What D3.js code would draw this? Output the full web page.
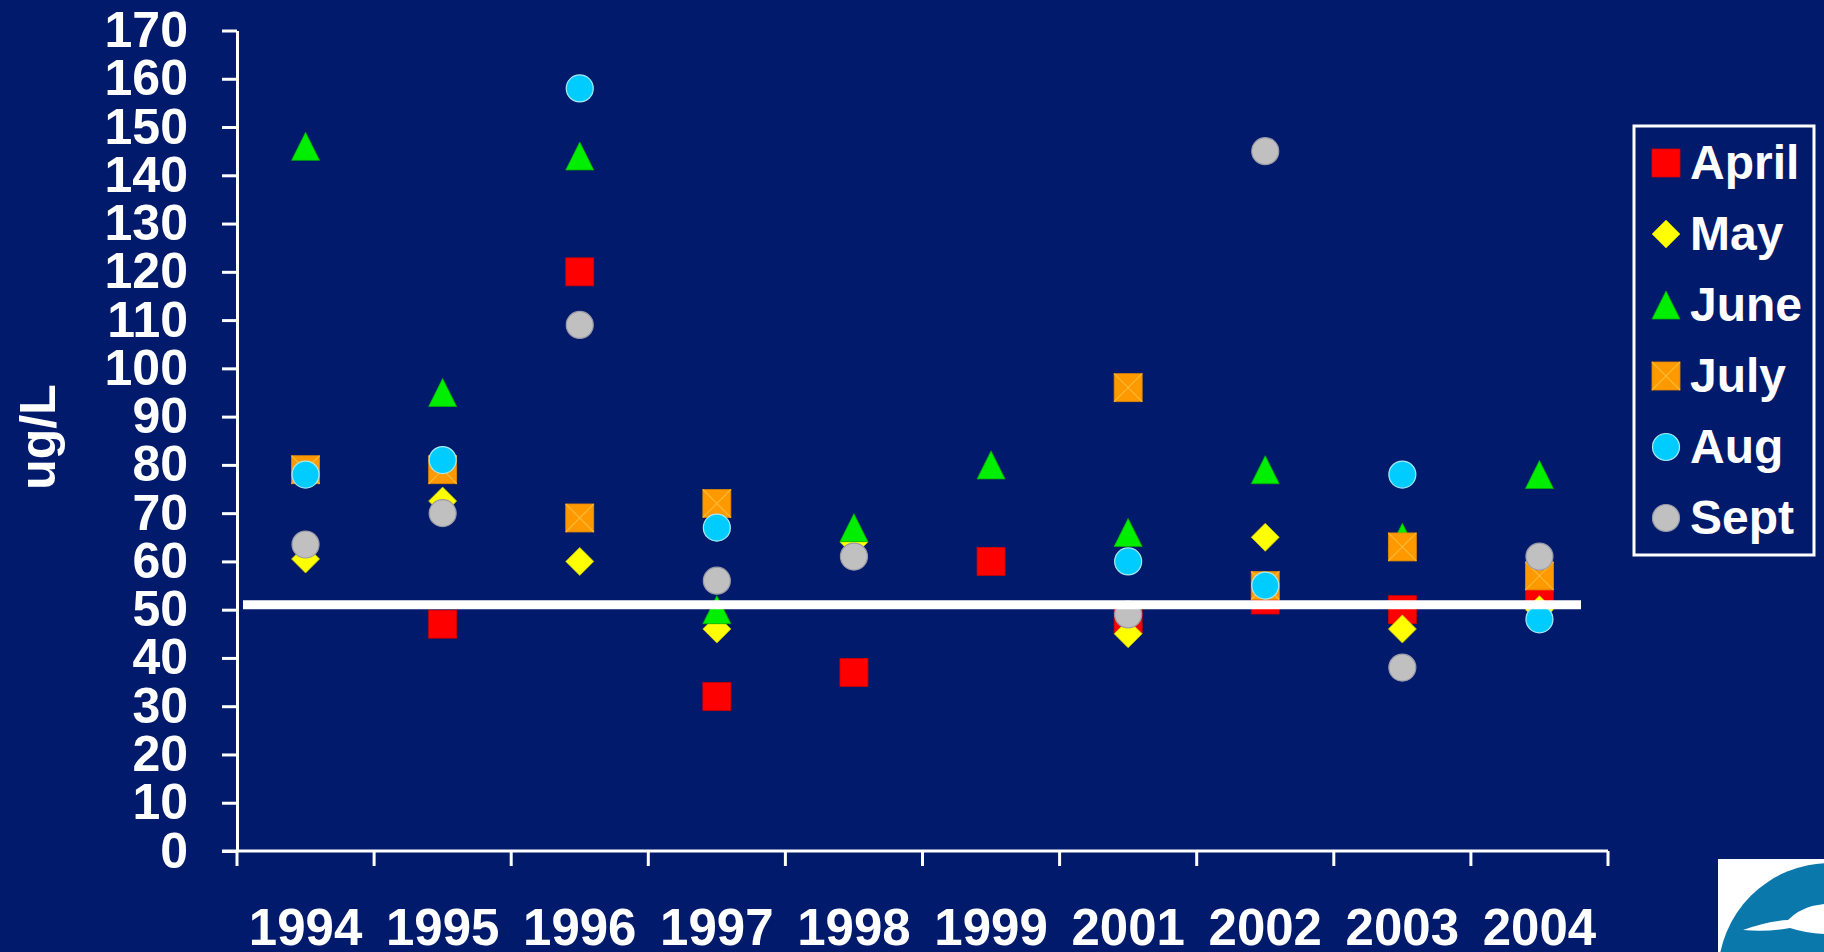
<!DOCTYPE html>
<html>
<head>
<meta charset="utf-8">
<script src="https://cdn.jsdelivr.net/npm/d3@7"></script>
<style>
	body { margin: 0; background: #021a6b; }
	text { font-family: "Liberation Sans", Arial, sans-serif; font-weight: bold; fill: #fff; }
</style>
</head>
<body>
<div id="chart"></div>
<script>
// data (ug/L), null = no sample
var years = ["1994", "1995", "1996", "1997", "1998", "1999", "2001", "2002", "2003", "2004"];
var april = [null, 47, 120, 32, 37, 60, 48, 52, 50, 53];
var may   = [60.5, 72.5, 60, 46, 64, null, 45, 65, 46, 50];
var june  = [146, 95, 144, 50, 67, 80, 66, 79, 65, 78];
var july  = [79, 79, 69, 72, null, null, 96, 55, 63, 57];
var aug   = [78, 81, 158, 67, null, null, 60, 55, 78, 48];
var sept  = [63.5, 70, 109, 56, 61, null, 49, 145, 38, 61];
var limit = 51;
var yTicks = d3.range(0, 171, 10);

var months = [
	{ name: "April", values: april, shape: "square",   color: "#ff0000" },
	{ name: "May",   values: may,   shape: "diamond",  color: "#ffff00" },
	{ name: "June",  values: june,  shape: "triangle", color: "#00ee00" },
	{ name: "July",  values: july,  shape: "xsquare",  color: "#ff9900" },
	{ name: "Aug",   values: aug,   shape: "circle",   color: "#00ccff" },
	{ name: "Sept",  values: sept,  shape: "circle",   color: "#c0c0c0" }
];

var width = 1824;
var height = 952;
// plot edges (window.top is read-only, so no "top" name here)
var plotLeft = 237, plotRight = 1608, plotTop = 30.5, plotBottom = 851;

var svg = d3.select("#chart").append("svg").attr("width", width).attr("height", height);
svg.append("rect").attr("width", width).attr("height", height).attr("fill", "#021a6b");

var x = d3.scaleBand().domain(years).range([plotLeft, plotRight]).padding(0);
var y = d3.scaleLinear().domain([0, 170]).range([plotBottom, plotTop]);

// y axis
var yAxis = svg.append("g").attr("transform", "translate(" + plotLeft + ",0)")
	.call(d3.axisLeft(y).tickValues(yTicks).tickSize(15).tickPadding(34).tickSizeOuter(0));
yAxis.selectAll("path, line").attr("stroke", "#fff").attr("stroke-width", 3);
yAxis.selectAll("text").attr("fill", "#fff").style("font-size", "50px")
	.style("font-family", "'Liberation Sans', Arial, sans-serif").style("font-weight", "bold");

// x axis: ticks between categories
svg.append("line").attr("x1", plotLeft - 15).attr("x2", plotRight).attr("y1", plotBottom).attr("y2", plotBottom)
	.attr("stroke", "#fff").attr("stroke-width", 3);
var edges = years.map(function(d) { return x(d); }).concat([plotRight]);
svg.selectAll(".xtick").data(edges).enter().append("line")
	.attr("class", "xtick")
	.attr("x1", function(d) { return d; }).attr("x2", function(d) { return d; })
	.attr("y1", plotBottom).attr("y2", plotBottom + 15)
	.attr("stroke", "#fff").attr("stroke-width", 3);
svg.selectAll(".xlab").data(years).enter().append("text")
	.attr("class", "xlab")
	.attr("x", function(d) { return x(d) + x.bandwidth() / 2; })
	.attr("y", 945)
	.attr("text-anchor", "middle")
	.style("font-size", "51px")
	.text(function(d) { return d; });

// axis title
svg.append("text")
	.attr("transform", "translate(55,437) rotate(-90)")
	.attr("text-anchor", "middle")
	.style("font-size", "50px")
	.text("ug/L");

// marker drawing
function drawMarker(g, shape, color, cx, cy) {
	var s = 14;
	if (shape == "square") {
		g.append("rect").attr("x", cx - s).attr("y", cy - s).attr("width", 2 * s).attr("height", 2 * s)
			.attr("fill", color).attr("stroke", "#d00000").attr("stroke-width", 0.8);
	} else if (shape == "xsquare") {
		g.append("rect").attr("x", cx - s).attr("y", cy - s).attr("width", 2 * s).attr("height", 2 * s)
			.attr("fill", color).attr("stroke", "#e08800").attr("stroke-width", 0.8);
		g.append("path").attr("d", "M" + (cx - s) + "," + (cy - s) + "L" + (cx + s) + "," + (cy + s) +
			"M" + (cx + s) + "," + (cy - s) + "L" + (cx - s) + "," + (cy + s))
			.attr("stroke", "#ffb833").attr("stroke-width", 1.2);
	} else if (shape == "diamond") {
		g.append("path").attr("d", "M" + cx + "," + (cy - s) + "L" + (cx + s) + "," + cy +
			"L" + cx + "," + (cy + s) + "L" + (cx - s) + "," + cy + "Z")
			.attr("fill", color).attr("stroke", "#c8c800").attr("stroke-width", 0.8);
	} else if (shape == "triangle") {
		g.append("path").attr("d", "M" + cx + "," + (cy - s) + "L" + (cx + s) + "," + (cy + s) +
			"L" + (cx - s) + "," + (cy + s) + "Z")
			.attr("fill", color).attr("stroke", "#00b000").attr("stroke-width", 0.8);
	} else {
		g.append("circle").attr("cx", cx).attr("cy", cy).attr("r", 13.5)
			.attr("fill", color).attr("stroke", color == "#00ccff" ? "#a8e8f0" : "#9a9aa8").attr("stroke-width", 1.2);
	}
}

// points, series drawn in order so later months sit on top
var pts = svg.append("g");
months.forEach(function(m) {
	var g = pts.append("g").attr("class", "series-" + m.name);
	m.values.forEach(function(v, i) {
		if (v == null) return;
		drawMarker(g, m.shape, m.color, x(years[i]) + x.bandwidth() / 2, y(v));
	});
});

// limit line
svg.append("line")
	.attr("x1", plotLeft + 6).attr("x2", 1581)
	.attr("y1", y(limit)).attr("y2", y(limit))
	.attr("stroke", "#fff").attr("stroke-width", 9);

// legend
var lg = svg.append("g");
lg.append("rect").attr("x", 1634).attr("y", 126).attr("width", 180).attr("height", 429)
	.attr("fill", "none").attr("stroke", "#fff").attr("stroke-width", 3);
months.forEach(function(m, i) {
	var cy = 163 + i * 71;
	drawMarker(lg, m.shape, m.color, 1666, cy);
	lg.append("text").attr("x", 1690).attr("y", cy + 16)
		.style("font-size", "48px").text(m.name);
});

// logo corner
var logo = svg.append("g");
logo.append("rect").attr("x", 1718).attr("y", 859).attr("width", 106).attr("height", 93).attr("fill", "#fff");
logo.append("circle").attr("cx", 1830).attr("cy", 975).attr("r", 112).attr("fill", "#0a78aa");
logo.append("path")
	.attr("d", "M1743,930 Q1768,921 1788,920 Q1798,910 1812,906 L1824,904 L1824,934 Q1805,933 1790,928 Q1768,932 1743,930 Z")
	.attr("fill", "#fff");
</script>
</body>
</html>
